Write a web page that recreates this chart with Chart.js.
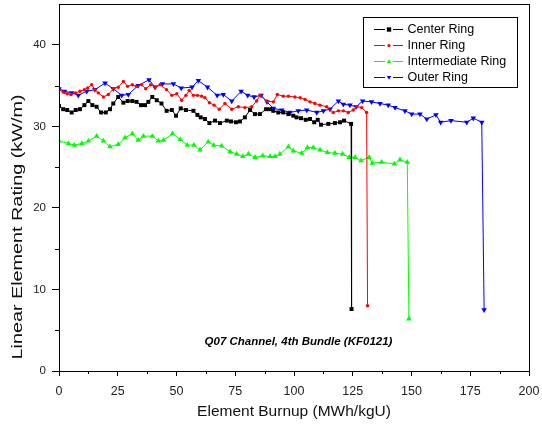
<!DOCTYPE html>
<html>
<head>
<meta charset="utf-8">
<script src="https://cdn.jsdelivr.net/npm/chart.js@4"></script>
<style>
  html, body { margin: 0; padding: 0; background: #fff; }
  #wrap { width: 542px; height: 430px; }
</style>
</head>
<body>
<div id="wrap"><canvas id="burnup" width="542" height="430"></canvas></div>
<script>
// burnup (MWh/kgU) and linear element rating (kW/m) per ring
const centerX = [0, 1.8, 3.5, 5.4, 7.1, 8.9, 10.8, 12.5, 14.2, 16.0, 17.9, 19.9, 21.7, 23.1, 25.2, 27.4, 29.2, 31.2, 33.0, 34.9, 36.6, 38.0, 39.7, 41.6, 43.6, 45.8, 48.0, 49.8, 51.8, 54.0, 57.2, 58.9, 60.3, 62.1, 64.0, 66.4, 68.5, 71.4, 73.2, 75.3, 77.0, 79.1, 81.3, 83.4, 85.5, 88.1, 89.8, 91.2, 93.3, 95.4, 97.6, 99.7, 101.1, 103.0, 105.0, 106.8, 108.6, 110.1, 111.5, 114.6, 117.4, 119.6, 121.3, 124.3, 124.5]
const centerY = [32.5, 32.1, 32.0, 31.7, 32.0, 32.1, 32.6, 33.1, 32.6, 32.4, 31.7, 31.7, 32.1, 32.8, 33.6, 32.9, 33.1, 33.1, 33.0, 32.6, 32.6, 33.0, 33.6, 33.2, 32.8, 31.9, 32.0, 31.3, 32.2, 32.0, 31.9, 31.4, 31.1, 30.9, 30.4, 30.7, 30.4, 30.7, 30.6, 30.5, 30.6, 31.1, 32.0, 31.5, 31.5, 32.1, 32.1, 31.9, 31.7, 31.7, 31.5, 31.3, 31.1, 31.0, 30.8, 30.9, 30.5, 30.8, 30.2, 30.3, 30.4, 30.5, 30.7, 30.3, 7.6]

const innerX = [0, 1.8, 3.5, 5.1, 7.1, 8.9, 10.8, 12.2, 13.9, 15.3, 16.7, 18.9, 21.0, 23.1, 25.2, 27.4, 29.2, 31.2, 33.0, 35.2, 36.9, 39.0, 40.9, 43.0, 45.8, 48.0, 50.1, 52.2, 54.0, 55.4, 57.2, 58.9, 60.7, 62.1, 64.0, 66.0, 68.2, 70.6, 73.5, 76.3, 79.1, 82.0, 84.1, 85.5, 88.4, 91.2, 92.9, 95.4, 97.6, 100.4, 102.6, 104.7, 106.8, 108.9, 111.1, 113.9, 116.7, 118.9, 121.0, 123.1, 125.2, 126.7, 128.8, 130.9, 131.3]
const innerY = [34.5, 34.2, 34.0, 33.9, 34.1, 34.3, 34.5, 34.7, 35.1, 34.5, 34.1, 33.6, 33.9, 34.6, 34.8, 35.5, 34.9, 35.1, 34.9, 35.1, 34.6, 35.1, 34.8, 35.1, 34.5, 33.8, 34.0, 33.2, 33.8, 34.4, 33.8, 33.8, 33.7, 33.5, 32.9, 32.6, 32.1, 32.8, 32.1, 32.4, 32.3, 32.4, 33.1, 33.8, 33.1, 33.0, 33.9, 33.7, 33.7, 33.6, 33.5, 33.3, 33.0, 32.8, 32.6, 32.4, 31.7, 31.9, 31.9, 31.7, 32.0, 32.4, 32.3, 31.7, 8.0]

const interX = [0, 4.0, 6.5, 9.7, 12.5, 16.0, 18.9, 21.7, 25.2, 28.1, 31.2, 33.7, 35.9, 39.7, 42.3, 44.5, 48.3, 51.6, 54.6, 57.4, 60.0, 63.5, 65.8, 69.2, 72.8, 75.6, 78.2, 80.6, 83.4, 86.7, 89.8, 91.9, 94.0, 97.6, 99.7, 103.3, 105.7, 108.2, 111.1, 114.2, 117.4, 120.7, 123.5, 126.0, 128.5, 132.0, 133.3, 137.3, 142.7, 145.1, 148.2, 148.9]
const interY = [28.2, 27.9, 27.7, 27.9, 28.2, 28.8, 28.2, 27.5, 27.8, 28.6, 29.1, 28.3, 28.8, 28.8, 28.2, 28.3, 29.1, 28.4, 27.7, 27.7, 27.1, 28.1, 27.7, 27.6, 26.9, 26.6, 26.3, 26.6, 26.2, 26.4, 26.3, 26.3, 26.6, 27.5, 27.0, 26.7, 27.4, 27.4, 27.1, 26.8, 26.7, 26.6, 26.2, 26.2, 25.8, 26.2, 25.5, 25.6, 25.4, 25.9, 25.6, 6.4]

const outerX = [0, 2.3, 5.4, 8.2, 11.8, 15.3, 19.6, 23.1, 26.7, 29.5, 33.7, 38.3, 40.9, 44.0, 48.7, 52.0, 56.6, 59.3, 63.2, 67.3, 69.9, 73.5, 77.5, 80.3, 83.0, 86.0, 88.5, 91.2, 94.8, 98.3, 101.8, 105.4, 109.7, 112.5, 115.3, 118.9, 121.0, 123.8, 126.4, 129.2, 133.0, 136.6, 140.1, 143.0, 147.2, 150.1, 153.6, 156.5, 160.4, 162.4, 166.8, 173.5, 176.3, 179.9, 180.9]
const outerY = [34.6, 34.3, 34.1, 33.8, 34.3, 34.5, 35.3, 34.6, 33.8, 33.9, 35.0, 35.7, 34.8, 35.2, 35.2, 34.7, 34.8, 35.6, 34.8, 33.8, 33.9, 33.1, 34.3, 33.8, 33.6, 33.8, 33.0, 32.2, 32.0, 31.7, 31.9, 32.0, 31.7, 31.9, 32.1, 33.1, 32.7, 32.6, 32.4, 33.1, 33.0, 32.8, 32.6, 32.3, 31.9, 31.5, 31.5, 30.9, 31.4, 30.5, 30.7, 30.5, 31.0, 30.5, 7.5]

const seriesNames = ['Center Ring', 'Inner Ring', 'Intermediate Ring', 'Outer Ring']
const xTicks = [0, 25, 50, 75, 100, 125, 150, 175, 200]
const yTicks = [0, 10, 20, 30, 40]
const xMinor = [12.5, 37.5, 62.5, 87.5, 112.5, 137.5, 162.5, 187.5]
const yMinor = [5, 15, 25, 35]

function toPoints(xs, ys) {
  return xs.map(function(x, i) { return {x: x, y: ys[i]} })
}

// marker look for each ring
const styles = [
  {color: '#000000', point: 'rect', radius: 2.8, rotation: 0},
  {color: '#ff0000', point: 'circle', radius: 1.7, rotation: 0},
  {color: '#00ff00', point: 'triangle', radius: 3.2, rotation: 0},
  {color: '#0000ff', point: 'triangle', radius: 3.2, rotation: 180}
]

const series = [
  toPoints(centerX, centerY),
  toPoints(innerX, innerY),
  toPoints(interX, interY),
  toPoints(outerX, outerY)
]

const datasets = series.map(function(pts, i) {
  const s = styles[i]
  return {
    label: seriesNames[i],
    data: pts,
    showLine: true,
    borderColor: s.color,
    backgroundColor: s.color,
    borderWidth: 1,
    pointStyle: s.point,
    pointRadius: s.radius,
    pointRotation: s.rotation,
    pointBorderWidth: 0,
    pointBackgroundColor: s.color,
    tension: 0
  }
})

function drawMarker(ctx, s, x, y, r) {
  ctx.save()
  ctx.fillStyle = s.color
  ctx.beginPath()
  if (s.point === 'rect') {
    ctx.rect(x - r, y - r, 2 * r, 2 * r)
  } else if (s.point === 'circle') {
    ctx.arc(x, y, r, 0, Math.PI * 2)
  } else {
    const d = s.rotation ? -1 : 1
    ctx.moveTo(x, y - d * r)
    ctx.lineTo(x + r, y + d * r * 0.7)
    ctx.lineTo(x - r, y + d * r * 0.7)
    ctx.closePath()
  }
  ctx.fill()
  ctx.restore()
}

// frame, minor ticks, legend box, caption, rotated y title
const decorations = {
  id: 'decorations',
  afterDraw: function(chart) {
    const ctx = chart.ctx
    const a = chart.chartArea
    const xs = chart.scales.x
    const ys = chart.scales.y
    ctx.save()
    ctx.strokeStyle = '#000'
    ctx.lineWidth = 1
    ctx.strokeRect(Math.round(a.left) + 0.5, Math.round(a.top) + 0.5, Math.round(a.right - a.left), Math.round(a.bottom - a.top))

    ctx.beginPath()
    xMinor.forEach(function(v) {
      const px = Math.round(xs.getPixelForValue(v)) + 0.5
      ctx.moveTo(px, a.bottom)
      ctx.lineTo(px, a.bottom + 3)
    })
    yMinor.forEach(function(v) {
      const py = Math.round(ys.getPixelForValue(v)) + 0.5
      ctx.moveTo(a.left, py)
      ctx.lineTo(a.left - 4, py)
    })
    ctx.stroke()

    // legend
    ctx.strokeRect(363.5, 17.5, 154, 70)
    ctx.font = '12.5px "Liberation Sans", Arial, sans-serif'
    ctx.textBaseline = 'middle'
    ctx.textAlign = 'left'
    seriesNames.forEach(function(name, i) {
      const s = styles[i]
      const y = 29.5 + 16 * i
      ctx.strokeStyle = s.color
      ctx.beginPath()
      ctx.moveTo(374, y)
      ctx.lineTo(385, y)
      ctx.moveTo(393, y)
      ctx.lineTo(403, y)
      ctx.stroke()
      drawMarker(ctx, s, 389, y, s.point === 'circle' ? 1.6 : 2.2)
      ctx.fillStyle = '#000'
      ctx.fillText(name, 407.5, y + 0.5)
    })

    ctx.font = 'italic bold 11.5px "Liberation Sans", Arial, sans-serif'
    ctx.textAlign = 'center'
    ctx.fillStyle = '#000'
    ctx.fillText('Q07 Channel, 4th Bundle (KF0121)', 298.5, 342)

    ctx.translate(18.5, 227)
    ctx.rotate(-Math.PI / 2)
    ctx.font = '14px "Liberation Sans", Arial, sans-serif'
    const label = 'Linear Element Rating (kW/m)'
    const w = ctx.measureText(label).width
    ctx.scale(265 / w, 1)
    ctx.fillStyle = '#111'
    ctx.fillText(label, 0, 0)
    ctx.restore()
  }
}

new Chart(document.getElementById('burnup'), {
  type: 'scatter',
  data: {datasets: datasets},
  plugins: [decorations],
  options: {
    responsive: false,
    animation: false,
    events: [],
    layout: {padding: {top: 3, right: 13, left: 0, bottom: 0}},
    plugins: {legend: {display: false}, tooltip: {enabled: false}},
    scales: {
      x: {
        type: 'linear',
        min: 0,
        max: 200,
        afterBuildTicks: function(scale) { scale.ticks = xTicks.map(function(v) { return {value: v} }) },
        afterFit: function(scale) { scale.height = 59; scale.paddingLeft = 0; scale.paddingRight = 0 },
        grid: {drawOnChartArea: false, tickLength: 5, color: '#000', tickColor: '#000'},
        border: {color: '#000'},
        ticks: {color: '#222', padding: 8, maxRotation: 0, autoSkip: false, font: {family: '"Liberation Sans", Arial, sans-serif', size: 12.5}},
        title: {
          display: true,
          text: 'Element Burnup (MWh/kgU)',
          color: '#111',
          padding: {top: 0, bottom: 9},
          font: {family: '"Liberation Sans", Arial, sans-serif', size: 15.5}
        }
      },
      y: {
        type: 'linear',
        min: 0,
        max: 45,
        afterBuildTicks: function(scale) { scale.ticks = yTicks.map(function(v) { return {value: v} }) },
        afterFit: function(scale) { scale.width = 59; scale.paddingTop = 0; scale.paddingBottom = 0 },
        grid: {drawOnChartArea: false, tickLength: 7, color: '#000', tickColor: '#000'},
        border: {color: '#000'},
        ticks: {color: '#222', padding: 6, autoSkip: false, font: {family: '"Liberation Sans", Arial, sans-serif', size: 11.5}}
      }
    }
  }
})
</script>
</body>
</html>
